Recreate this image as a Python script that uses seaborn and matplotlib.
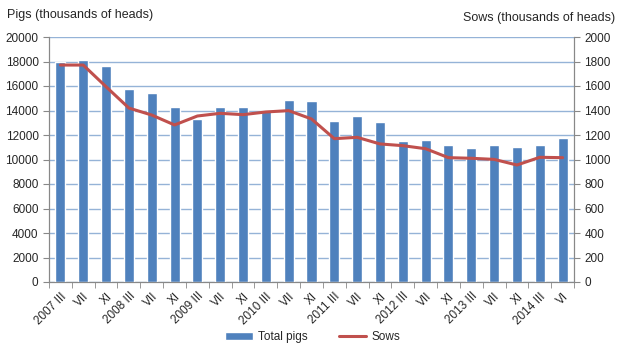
import pandas as pd
import numpy as np
import seaborn as sns
import matplotlib.pyplot as plt

periods = ['2007 III', 'VII', 'XI', '2008 III', 'VII', 'XI', '2009 III', 'VII', 'XI',
           '2010 III', 'VII', 'XI', '2011 III', 'VII', 'XI', '2012 III', 'VII', 'XI',
           '2013 III', 'VII', 'XI', '2014 III', 'VI']
total_pigs = [18000, 18100, 17600, 15750, 15400, 14250, 13300, 14300, 14250,
              13950, 14850, 14750, 13150, 13550, 13100, 11500, 11600, 11150,
              10950, 11150, 11000, 11200, 11750]
sows = [1771, 1771, 1594, 1420, 1363, 1282, 1355, 1377, 1366,
        1388, 1399, 1331, 1170, 1181, 1127, 1113, 1088, 1015,
        1010, 1001, 955, 1018, 1015]

df = pd.DataFrame({'pos': np.arange(len(periods)), 'pigs': total_pigs, 'sows': sows})

sns.set_style('white')
plt.rcParams['font.family'] = ['Liberation Sans', 'DejaVu Sans']

fig = plt.figure(figsize=(6.25, 3.51), dpi=100)
ax = fig.add_axes([49 / 625, 1 - 282 / 351, 525 / 625, 245 / 351])

sns.barplot(data=df, x='pos', y='pigs', color='#4f81bd', width=0.44, saturation=1,
            ax=ax, label='Total pigs', zorder=3)
ax.set_ylim(0, 20000)
ax.set_yticks(np.arange(0, 20001, 2000))
ax.set_xlim(-0.5, len(periods) - 0.5)
ax.set_axisbelow(True)
ax.yaxis.grid(True, color='#95b3d7', linewidth=1, linestyle='-')
ax.set_xlabel('')
ax.set_ylabel('')

# category labels at centres, tick marks between categories
ax.set_xticks(df['pos'])
ax.set_xticklabels(periods, rotation=45, ha='right', rotation_mode='anchor', fontsize=8.5)
ax.tick_params(axis='x', which='major', length=0, pad=6)
ax.set_xticks(np.arange(-0.5, len(periods), 1), minor=True)
ax.tick_params(axis='x', which='minor', length=4, color='#888888', direction='out', bottom=True)
ax.tick_params(axis='y', labelsize=8.5, length=4, color='#888888', left=True, direction='out')

ax2 = ax.twinx()
sns.lineplot(data=df, x='pos', y='sows', color='#c0504d', linewidth=2.2, ax=ax2, label='Sows')
ax2.set_ylim(0, 2000)
ax2.set_yticks(np.arange(0, 2001, 200))
ax2.set_ylabel('')
ax2.grid(False)
ax2.tick_params(axis='y', labelsize=8.5, length=4, color='#888888', right=True, direction='out')
ax2.set_xlim(-0.5, len(periods) - 0.5)

for a in (ax, ax2):
    a.spines['top'].set_visible(False)
    for s in ('left', 'right', 'bottom'):
        a.spines[s].set_color('#888888')
        a.spines[s].set_linewidth(0.8)

h1, l1 = ax.get_legend_handles_labels()
h2, l2 = ax2.get_legend_handles_labels()
if ax.get_legend():
    ax.get_legend().remove()
if ax2.get_legend():
    ax2.get_legend().remove()
fig.legend(h1 + h2, l1 + l2, loc='center', bbox_to_anchor=(313 / 625, 1 - 337 / 351),
           ncol=2, frameon=False, fontsize=8.5, columnspacing=2.6, handlelength=2.3,
           handleheight=0.6, handletextpad=0.5)

fig.text(7 / 625, 1 - 15 / 351, 'Pigs (thousands of heads)', fontsize=9, va='center', ha='left')
fig.text(615 / 625, 1 - 18 / 351, 'Sows (thousands of heads)', fontsize=9, va='center', ha='right')

plt.savefig('out.png', dpi=100)
plt.close()
